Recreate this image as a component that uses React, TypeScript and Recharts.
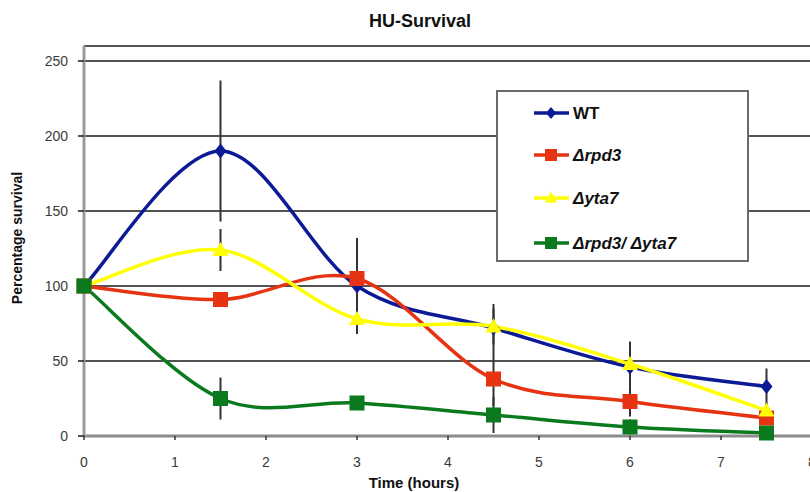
import React from 'react';
import { LineChart, Line, XAxis, YAxis, CartesianGrid, ErrorBar } from 'recharts';

const hours = [0, 1.5, 3, 4.5, 6, 7.5];
const wtValues = [100, 190, 100, 72, 46, 33];
const wtErrors = [0, 47, 20, 16, 13, 12];
const rpd3Values = [100, 91, 105, 38, 23, 12];
const rpd3Errors = [0, 4, 27, 18, 10, 4];
const yta7Values = [100, 124, 78, 73, 48, 17];
const yta7Errors = [0, 14, 10, 12, 15, 5];
const doubleValues = [100, 25, 22, 14, 6, 2];
const doubleErrors = [0, 14, 3, 12, 5, 2];
const xTicks = [0, 1, 2, 3, 4, 5, 6, 7, 8];
const yTicks = [0, 50, 100, 150, 200, 250];

const seriesNames = ['WT', '\u0394rpd3', '\u0394yta7', '\u0394rpd3/ \u0394yta7'];

const data = hours.map((h, i) => ({
  hour: h,
  wt: wtValues[i],
  wtErr: wtErrors[i],
  rpd3: rpd3Values[i],
  rpd3Err: rpd3Errors[i],
  yta7: yta7Values[i],
  yta7Err: yta7Errors[i],
  dbl: doubleValues[i],
  dblErr: doubleErrors[i],
}));

const BLUE = '#0D1A96';
const RED = '#E63312';
const YELLOW = '#FFFF00';
const GREEN = '#0B7A1E';
const FONT = "Arial, 'Liberation Sans', sans-serif";

// Excel-style smoothing (Catmull-Rom through the points)
const excelCurve: any = (context: any) => {
  let pts: [number, number][] = [];
  return {
    areaStart() {},
    areaEnd() {},
    lineStart() {
      pts = [];
    },
    point(x: number, y: number) {
      pts.push([+x, +y]);
    },
    lineEnd() {
      if (!pts.length) return;
      context.moveTo(pts[0][0], pts[0][1]);
      for (let i = 0; i < pts.length - 1; i++) {
        const p0 = pts[i - 1] || pts[i];
        const p1 = pts[i];
        const p2 = pts[i + 1];
        const p3 = pts[i + 2] || p2;
        context.bezierCurveTo(
          p1[0] + (p2[0] - p0[0]) / 6,
          p1[1] + (p2[1] - p0[1]) / 6,
          p2[0] - (p3[0] - p1[0]) / 6,
          p2[1] - (p3[1] - p1[1]) / 6,
          p2[0],
          p2[1]
        );
      }
    },
  };
};

const diamondPath = (cx: number, cy: number, w: number, h: number) =>
  `M${cx},${cy - h}L${cx + w},${cy}L${cx},${cy + h}L${cx - w},${cy}Z`;
const trianglePath = (cx: number, cy: number, w: number, h: number) =>
  `M${cx},${cy - h * 0.58}L${cx + w / 2},${cy + h * 0.42}L${cx - w / 2},${cy + h * 0.42}Z`;

const makeDot = (kind: string, color: string) => (props: any) => {
  const { cx, cy, index } = props;
  const k = `${kind}-${index}`;
  if (cx == null || cy == null) return <g key={k} />;
  if (kind === 'diamond') return <path key={k} d={diamondPath(cx, cy, 6, 7.5)} fill={color} />;
  if (kind === 'triangle') return <path key={k} d={trianglePath(cx, cy, 16, 14)} fill={color} />;
  return <rect key={k} x={cx - 7.5} y={cy - 7.5} width={15} height={15} fill={color} />;
};

const legendRows = [
  { name: seriesNames[0], color: BLUE, kind: 'diamond', italic: false, y: 113 },
  { name: seriesNames[1], color: RED, kind: 'square', italic: true, y: 155 },
  { name: seriesNames[2], color: YELLOW, kind: 'triangle', italic: true, y: 198 },
  { name: seriesNames[3], color: GREEN, kind: 'square', italic: true, y: 243 },
];

const LegendIcon = ({ kind, color, y }: { kind: string; color: string; y: number }) => {
  const cx = 551;
  let marker;
  if (kind === 'diamond') marker = <path d={diamondPath(cx, y, 5, 6)} fill={color} />;
  else if (kind === 'triangle') marker = <path d={trianglePath(cx, y, 12, 11)} fill={color} />;
  else marker = <rect x={cx - 6} y={y - 6} width={12} height={12} fill={color} />;
  return (
    <g>
      <line x1={534} x2={569} y1={y} y2={y} stroke={color} strokeWidth={3.5} />
      {marker}
    </g>
  );
};

export default function App() {
  return (
    <div style={{ position: 'absolute', left: 0, top: 0, width: 810, height: 492, overflow: 'hidden', background: '#fff' }}>
      <LineChart width={830} height={492} data={data} margin={{ top: 46, right: 18, bottom: 0, left: 0 }}>
        <CartesianGrid vertical={false} stroke="#1a1a1a" strokeWidth={1.5} />
        <XAxis
          dataKey="hour"
          type="number"
          domain={[0, 8]}
          ticks={xTicks}
          interval={0}
          height={56}
          axisLine={{ stroke: '#8c8c8c', strokeWidth: 3 }}
          tickLine={{ stroke: '#333', strokeWidth: 1.5 }}
          tickSize={4}
          tickMargin={17}
          tick={{ fill: '#3a3a3a', fontSize: 14, fontFamily: FONT }}
        />
        <YAxis
          type="number"
          domain={[0, 260]}
          ticks={yTicks}
          interval={0}
          width={84}
          axisLine={{ stroke: '#9a9a9a', strokeWidth: 3 }}
          tickLine={{ stroke: '#1a1a1a', strokeWidth: 1.5 }}
          tickSize={6}
          tickMargin={10}
          tick={{ fill: '#3a3a3a', fontSize: 14, fontFamily: FONT }}
        />
        <Line
          dataKey="wt"
          type={excelCurve}
          stroke={BLUE}
          strokeWidth={3.5}
          dot={makeDot('diamond', BLUE)}
          activeDot={false}
          isAnimationActive={false}
        >
          <ErrorBar dataKey="wtErr" direction="y" width={0} stroke="#333" strokeWidth={2} />
        </Line>
        <Line
          dataKey="rpd3"
          type={excelCurve}
          stroke={RED}
          strokeWidth={3.5}
          dot={makeDot('square', RED)}
          activeDot={false}
          isAnimationActive={false}
        >
          <ErrorBar dataKey="rpd3Err" direction="y" width={0} stroke="#333" strokeWidth={2} />
        </Line>
        <Line
          dataKey="yta7"
          type={excelCurve}
          stroke={YELLOW}
          strokeWidth={3.5}
          dot={makeDot('triangle', YELLOW)}
          activeDot={false}
          isAnimationActive={false}
        >
          <ErrorBar dataKey="yta7Err" direction="y" width={0} stroke="#333" strokeWidth={2} />
        </Line>
        <Line
          dataKey="dbl"
          type={excelCurve}
          stroke={GREEN}
          strokeWidth={3.5}
          dot={makeDot('square', GREEN)}
          activeDot={false}
          isAnimationActive={false}
        >
          <ErrorBar dataKey="dblErr" direction="y" width={0} stroke="#333" strokeWidth={2} />
        </Line>
      </LineChart>
      <svg
        width={810}
        height={492}
        style={{ position: 'absolute', left: 0, top: 0, pointerEvents: 'none' }}
        fontFamily={FONT}
      >
        <text x={420} y={27} textAnchor="middle" fontSize={18} fontWeight="bold" fill="#111">
          HU-Survival
        </text>
        <text x={414} y={488} textAnchor="middle" fontSize={15} fontWeight="bold" fill="#111">
          Time (hours)
        </text>
        <text
          x={22}
          y={238}
          textAnchor="middle"
          fontSize={14}
          fontWeight="bold"
          fill="#111"
          transform="rotate(-90, 22, 238)"
        >
          Percentage survival
        </text>
        <rect x={497} y={91} width={251} height={170} fill="#fff" stroke="#6a6a6a" strokeWidth={2} />
        {legendRows.map((r) => (
          <g key={r.name}>
            <LegendIcon kind={r.kind} color={r.color} y={r.y} />
            <text
              x={573}
              y={r.y + 6}
              fontSize={17}
              fontWeight="bold"
              fontStyle={r.italic ? 'italic' : 'normal'}
              fill="#111"
            >
              {r.name}
            </text>
          </g>
        ))}
      </svg>
    </div>
  );
}
